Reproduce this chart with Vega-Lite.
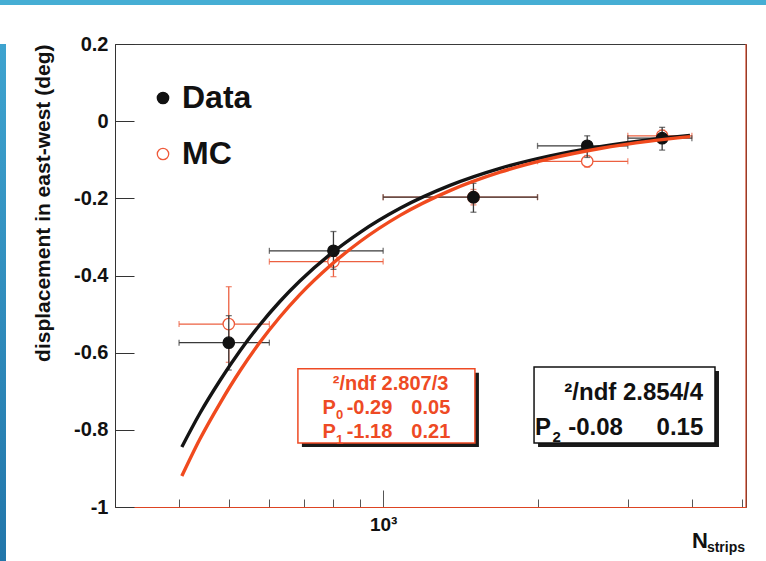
{
  "$schema": "https://vega.github.io/schema/vega-lite/v6.json",
  "padding": 0,
  "background": "white",
  "config": {
    "font": "Liberation Sans",
    "view": {"stroke": null},
    "axis": {"labelFont": "Liberation Sans", "labelFontWeight": "bold", "labelColor": "#111", "titleFont": "Liberation Sans", "titleFontWeight": "bold", "titleColor": "#111", "grid": false},
    "legend": {"orient": "none", "legendX": 147, "legendY": 82, "padding": 0, "labelFont": "Liberation Sans", "labelFontSize": 32, "labelFontWeight": "bold", "labelColor": "#111", "labelOffset": 3, "rowPadding": 24, "symbolSize": 130, "symbolStrokeWidth": 1.3, "title": null}
  },
  "datasets": {
    "pts": [
      {"series": "Data", "n": 500, "nlo": 400, "nhi": 600, "y": -0.574, "ylo": -0.645, "yhi": -0.504},
      {"series": "Data", "n": 800, "nlo": 600, "nhi": 1000, "y": -0.336, "ylo": -0.384, "yhi": -0.286},
      {"series": "Data", "n": 1500, "nlo": 1000, "nhi": 2000, "y": -0.197, "ylo": -0.236, "yhi": -0.161},
      {"series": "Data", "n": 2500, "nlo": 2000, "nhi": 3000, "y": -0.064, "ylo": -0.094, "yhi": -0.038},
      {"series": "Data", "n": 3500, "nlo": 3000, "nhi": 4000, "y": -0.044, "ylo": -0.075, "yhi": -0.016},
      {"series": "MC", "n": 500, "nlo": 400, "nhi": 600, "y": -0.526, "ylo": -0.625, "yhi": -0.429},
      {"series": "MC", "n": 800, "nlo": 600, "nhi": 1000, "y": -0.364, "ylo": -0.403, "yhi": -0.325},
      {"series": "MC", "n": 1500, "nlo": 1000, "nhi": 2000, "y": -0.197, "ylo": -0.217, "yhi": -0.177},
      {"series": "MC", "n": 2500, "nlo": 2000, "nhi": 3000, "y": -0.104, "ylo": -0.119, "yhi": -0.089},
      {"series": "MC", "n": 3500, "nlo": 3000, "nhi": 4000, "y": -0.038, "ylo": -0.053, "yhi": -0.023}
    ],
    "fits": [
      {"fit": "Data", "n": 405, "y": -0.8445}, {"fit": "Data", "n": 439, "y": -0.7577}, {"fit": "Data", "n": 481, "y": -0.6716},
      {"fit": "Data", "n": 526, "y": -0.5952}, {"fit": "Data", "n": 575, "y": -0.5275}, {"fit": "Data", "n": 629, "y": -0.4674},
      {"fit": "Data", "n": 688, "y": -0.4143}, {"fit": "Data", "n": 788, "y": -0.3453}, {"fit": "Data", "n": 902, "y": -0.2880},
      {"fit": "Data", "n": 1079, "y": -0.2258}, {"fit": "Data", "n": 1350, "y": -0.1665}, {"fit": "Data", "n": 1690, "y": -0.1224},
      {"fit": "Data", "n": 2115, "y": -0.0900}, {"fit": "Data", "n": 2648, "y": -0.0659}, {"fit": "Data", "n": 3314, "y": -0.0480},
      {"fit": "Data", "n": 3966, "y": -0.0371},
      {"fit": "MC", "n": 405, "y": -0.9197}, {"fit": "MC", "n": 439, "y": -0.8245}, {"fit": "MC", "n": 481, "y": -0.7305},
      {"fit": "MC", "n": 526, "y": -0.6470}, {"fit": "MC", "n": 575, "y": -0.5731}, {"fit": "MC", "n": 629, "y": -0.5076},
      {"fit": "MC", "n": 688, "y": -0.4495}, {"fit": "MC", "n": 788, "y": -0.3746}, {"fit": "MC", "n": 902, "y": -0.3119},
      {"fit": "MC", "n": 1079, "y": -0.2442}, {"fit": "MC", "n": 1350, "y": -0.1800}, {"fit": "MC", "n": 1690, "y": -0.1323},
      {"fit": "MC", "n": 2115, "y": -0.0970}, {"fit": "MC", "n": 2648, "y": -0.0708}, {"fit": "MC", "n": 3314, "y": -0.0517},
      {"fit": "MC", "n": 3966, "y": -0.0400}
    ]
  },
  "spacing": 39,
  "bounds": "flush",
  "vconcat": [
    {
      "width": 766, "height": 5,
      "data": {"values": [{}]},
      "mark": {"type": "rect", "color": "#46aed4"},
      "encoding": {"x": {"value": 0}, "x2": {"value": "width"}, "y": {"value": 0}, "y2": {"value": "height"}}
    },
    {
      "spacing": 109,
      "bounds": "flush",
      "hconcat": [
        {
          "width": 6, "height": 517,
          "data": {"values": [{}]},
          "mark": {"type": "rect", "fill": {"gradient": "linear", "x1": 0, "y1": 0, "x2": 0, "y2": 1, "stops": [{"offset": 0, "color": "#3ea3cf"}, {"offset": 1, "color": "#2276aa"}]}},
          "encoding": {"x": {"value": 0}, "x2": {"value": "width"}, "y": {"value": 0}, "y2": {"value": "height"}}
        },
        {
          "width": 631, "height": 463,
          "view": {"stroke": "#3a3a3a", "strokeWidth": 1},
          "layer": [
            {
              "data": {"name": "pts"},
              "transform": [{"filter": "datum.series == 'MC'"}],
              "mark": {"type": "errorbar", "ticks": {"size": 6, "thickness": 1.3}, "thickness": 1.3, "color": "#ec6040"},
              "encoding": {
                "x": {"field": "nlo", "type": "quantitative", "title": null,
                  "scale": {"type": "log", "domain": [300, 5100], "nice": false},
                  "axis": {"values": [400, 500, 600, 700, 800, 900, 1000, 2000, 3000, 4000, 5000],
                    "labelExpr": "datum.value == 1000 ? '10³' : ''",
                    "tickSize": {"condition": {"test": "datum.value == 1000", "value": -17}, "value": -8},
                    "labelPadding": 25, "labelFontSize": 19, "domainColor": "#dd4422", "tickColor": "#555555",
                    "labelOverlap": false, "labelFlush": false, "title": null}},
                "x2": {"field": "nhi"},
                "y": {"field": "y", "type": "quantitative", "title": "displacement in east-west (deg)",
                  "scale": {"domain": [-1, 0.2], "nice": false, "zero": false},
                  "axis": {"values": [-1, -0.95, -0.9, -0.85, -0.8, -0.75, -0.7, -0.65, -0.6, -0.55, -0.5, -0.45, -0.4, -0.35, -0.3, -0.25, -0.2, -0.15, -0.1, -0.05, 0, 0.05, 0.1, 0.15, 0.2],
                    "labelExpr": "abs(datum.value*5 - round(datum.value*5)) < 0.001 ? '' + datum.value : ''",
                    "tickSize": {"condition": {"test": "abs(datum.value*5 - round(datum.value*5)) < 0.001", "value": -19}, "value": -10},
                    "labelPadding": 26, "labelFontSize": 20, "domainColor": "#333333", "tickColor": "#333333",
                    "labelOverlap": false, "labelFlush": false,
                    "title": "displacement in east-west (deg)", "titleFontSize": 21, "titleAnchor": "end", "titlePadding": 20}}
              }
            },
            {
              "data": {"name": "pts"},
              "transform": [{"filter": "datum.series == 'MC'"}],
              "mark": {"type": "errorbar", "ticks": {"size": 6, "thickness": 1.3}, "thickness": 1.3, "color": "#ec6040"},
              "encoding": {
                "x": {"field": "n", "type": "quantitative", "title": null},
                "y": {"field": "ylo", "type": "quantitative", "title": "displacement in east-west (deg)"},
                "y2": {"field": "yhi"}
              }
            },
            {
              "data": {"name": "pts"},
              "transform": [{"filter": "datum.series == 'MC'"}],
              "mark": {"type": "point", "size": 130, "strokeWidth": 1.3, "opacity": 1, "fillOpacity": 1, "strokeOpacity": 1},
              "encoding": {
                "x": {"field": "n", "type": "quantitative", "title": null},
                "y": {"field": "y", "type": "quantitative", "title": "displacement in east-west (deg)"},
                "fill": {"field": "series", "type": "nominal", "scale": {"domain": ["Data", "MC"], "range": ["#111111", "#ffffff"]}},
                "stroke": {"field": "series", "type": "nominal", "scale": {"domain": ["Data", "MC"], "range": ["#111111", "#ef5a3a"]}}
              }
            },
            {
              "data": {"name": "pts"},
              "transform": [{"filter": "datum.series == 'Data'"}],
              "mark": {"type": "errorbar", "ticks": {"size": 6, "thickness": 1.3}, "thickness": 1.3, "color": "#3a3a3a"},
              "encoding": {
                "x": {"field": "nlo", "type": "quantitative", "title": null},
                "x2": {"field": "nhi"},
                "y": {"field": "y", "type": "quantitative", "title": "displacement in east-west (deg)"}
              }
            },
            {
              "data": {"name": "pts"},
              "transform": [{"filter": "datum.series == 'Data'"}],
              "mark": {"type": "errorbar", "ticks": {"size": 6, "thickness": 1.3}, "thickness": 1.3, "color": "#3a3a3a"},
              "encoding": {
                "x": {"field": "n", "type": "quantitative", "title": null},
                "y": {"field": "ylo", "type": "quantitative", "title": "displacement in east-west (deg)"},
                "y2": {"field": "yhi"}
              }
            },
            {
              "data": {"name": "pts"},
              "transform": [{"filter": "datum.series == 'Data'"}],
              "mark": {"type": "point", "size": 130, "strokeWidth": 1.3, "opacity": 1, "fillOpacity": 1, "strokeOpacity": 1},
              "encoding": {
                "x": {"field": "n", "type": "quantitative", "title": null},
                "y": {"field": "y", "type": "quantitative", "title": "displacement in east-west (deg)"},
                "fill": {"field": "series", "type": "nominal"},
                "stroke": {"field": "series", "type": "nominal"}
              }
            },
            {
              "data": {"name": "fits"},
              "transform": [{"filter": "datum.fit == 'Data'"}],
              "mark": {"type": "line", "color": "#141414", "strokeWidth": 3.4, "interpolate": "monotone"},
              "encoding": {"x": {"field": "n", "type": "quantitative", "title": null}, "y": {"field": "y", "type": "quantitative", "title": "displacement in east-west (deg)"}}
            },
            {
              "data": {"name": "fits"},
              "transform": [{"filter": "datum.fit == 'MC'"}],
              "mark": {"type": "line", "color": "#f04a1e", "strokeWidth": 3.4, "interpolate": "monotone"},
              "encoding": {"x": {"field": "n", "type": "quantitative", "title": null}, "y": {"field": "y", "type": "quantitative", "title": "displacement in east-west (deg)"}}
            },
            {
              "data": {"values": [{}]},
              "mark": {"type": "rule", "color": "#d04020", "strokeWidth": 1.2},
              "encoding": {"x": {"datum": 5100}}
            },
            {
              "data": {"values": [{}]},
              "mark": {"type": "rect", "color": "#1a1a1a", "xOffset": 4, "x2Offset": 4, "yOffset": 4, "y2Offset": 4},
              "encoding": {"x": {"datum": 682}, "x2": {"datum": 1510}, "y": {"datum": -0.642}, "y2": {"datum": -0.834}}
            },
            {
              "data": {"values": [{}]},
              "mark": {"type": "rect", "fill": "#ffffff", "stroke": "#ee4a24", "strokeWidth": 1.5},
              "encoding": {"x": {"datum": 682}, "x2": {"datum": 1510}, "y": {"datum": -0.642}, "y2": {"datum": -0.834}}
            },
            {
              "data": {"values": [{}]},
              "mark": {"type": "rect", "color": "#1a1a1a", "xOffset": 4, "x2Offset": 4, "yOffset": 4, "y2Offset": 4},
              "encoding": {"x": {"datum": 1969}, "x2": {"datum": 4437}, "y": {"datum": -0.637}, "y2": {"datum": -0.834}}
            },
            {
              "data": {"values": [{}]},
              "mark": {"type": "rect", "fill": "#ffffff", "stroke": "#111111", "strokeWidth": 1.5},
              "encoding": {"x": {"datum": 1969}, "x2": {"datum": 4437}, "y": {"datum": -0.637}, "y2": {"datum": -0.834}}
            },
            {
              "data": {"values": [{}]},
              "mark": {"type": "text", "text": "²/ndf 2.807/3", "align": "right", "baseline": "alphabetic", "fontSize": 20, "fontWeight": "bold", "color": "#ee4a24"},
              "encoding": {"x": {"datum": 1340}, "y": {"datum": -0.697}}
            },
            {
              "data": {"values": [{}]},
              "mark": {"type": "text", "text": ["P", "P"], "lineHeight": 24.5, "align": "left", "baseline": "alphabetic", "fontSize": 20, "fontWeight": "bold", "color": "#ee4a24"},
              "encoding": {"x": {"datum": 762}, "y": {"datum": -0.758}}
            },
            {
              "data": {"values": [{}]},
              "mark": {"type": "text", "text": ["0", "1"], "lineHeight": 24.5, "align": "left", "baseline": "alphabetic", "fontSize": 13, "fontWeight": "bold", "color": "#ee4a24"},
              "encoding": {"x": {"datum": 809}, "y": {"datum": -0.773}}
            },
            {
              "data": {"values": [{}]},
              "mark": {"type": "text", "text": ["-0.29", "-1.18"], "lineHeight": 24.5, "align": "left", "baseline": "alphabetic", "fontSize": 20, "fontWeight": "bold", "color": "#ee4a24"},
              "encoding": {"x": {"datum": 849}, "y": {"datum": -0.758}}
            },
            {
              "data": {"values": [{}]},
              "mark": {"type": "text", "text": ["0.05", "0.21"], "lineHeight": 24.5, "align": "right", "baseline": "alphabetic", "fontSize": 20, "fontWeight": "bold", "color": "#ee4a24"},
              "encoding": {"x": {"datum": 1352}, "y": {"datum": -0.758}}
            },
            {
              "data": {"values": [{}]},
              "mark": {"type": "text", "text": "²/ndf 2.854/4", "align": "right", "baseline": "alphabetic", "fontSize": 24, "fontWeight": "bold", "color": "#111111"},
              "encoding": {"x": {"datum": 4206}, "y": {"datum": -0.722}}
            },
            {
              "data": {"values": [{}]},
              "mark": {"type": "text", "text": "P", "align": "left", "baseline": "alphabetic", "fontSize": 24, "fontWeight": "bold", "color": "#111111"},
              "encoding": {"x": {"datum": 1978}, "y": {"datum": -0.813}}
            },
            {
              "data": {"values": [{}]},
              "mark": {"type": "text", "text": "2", "align": "left", "baseline": "alphabetic", "fontSize": 15, "fontWeight": "bold", "color": "#111111"},
              "encoding": {"x": {"datum": 2140}, "y": {"datum": -0.832}}
            },
            {
              "data": {"values": [{}]},
              "mark": {"type": "text", "text": "-0.08", "align": "left", "baseline": "alphabetic", "fontSize": 24, "fontWeight": "bold", "color": "#111111"},
              "encoding": {"x": {"datum": 2296}, "y": {"datum": -0.813}}
            },
            {
              "data": {"values": [{}]},
              "mark": {"type": "text", "text": "0.15", "align": "right", "baseline": "alphabetic", "fontSize": 24, "fontWeight": "bold", "color": "#111111"},
              "encoding": {"x": {"datum": 4210}, "y": {"datum": -0.813}}
            },
            {
              "data": {"values": [{}]},
              "mark": {"type": "text", "text": "N", "align": "right", "baseline": "alphabetic", "dx": -38, "dy": 41, "fontSize": 22, "fontWeight": "bold", "color": "#111111", "clip": false},
              "encoding": {"x": {"datum": 5100}, "y": {"datum": -1}}
            },
            {
              "data": {"values": [{}]},
              "mark": {"type": "text", "text": "strips", "align": "right", "baseline": "alphabetic", "dx": -1, "dy": 45, "fontSize": 14, "fontWeight": "bold", "color": "#111111", "clip": false},
              "encoding": {"x": {"datum": 5100}, "y": {"datum": -1}}
            }
          ]
        }
      ]
    }
  ]
}
